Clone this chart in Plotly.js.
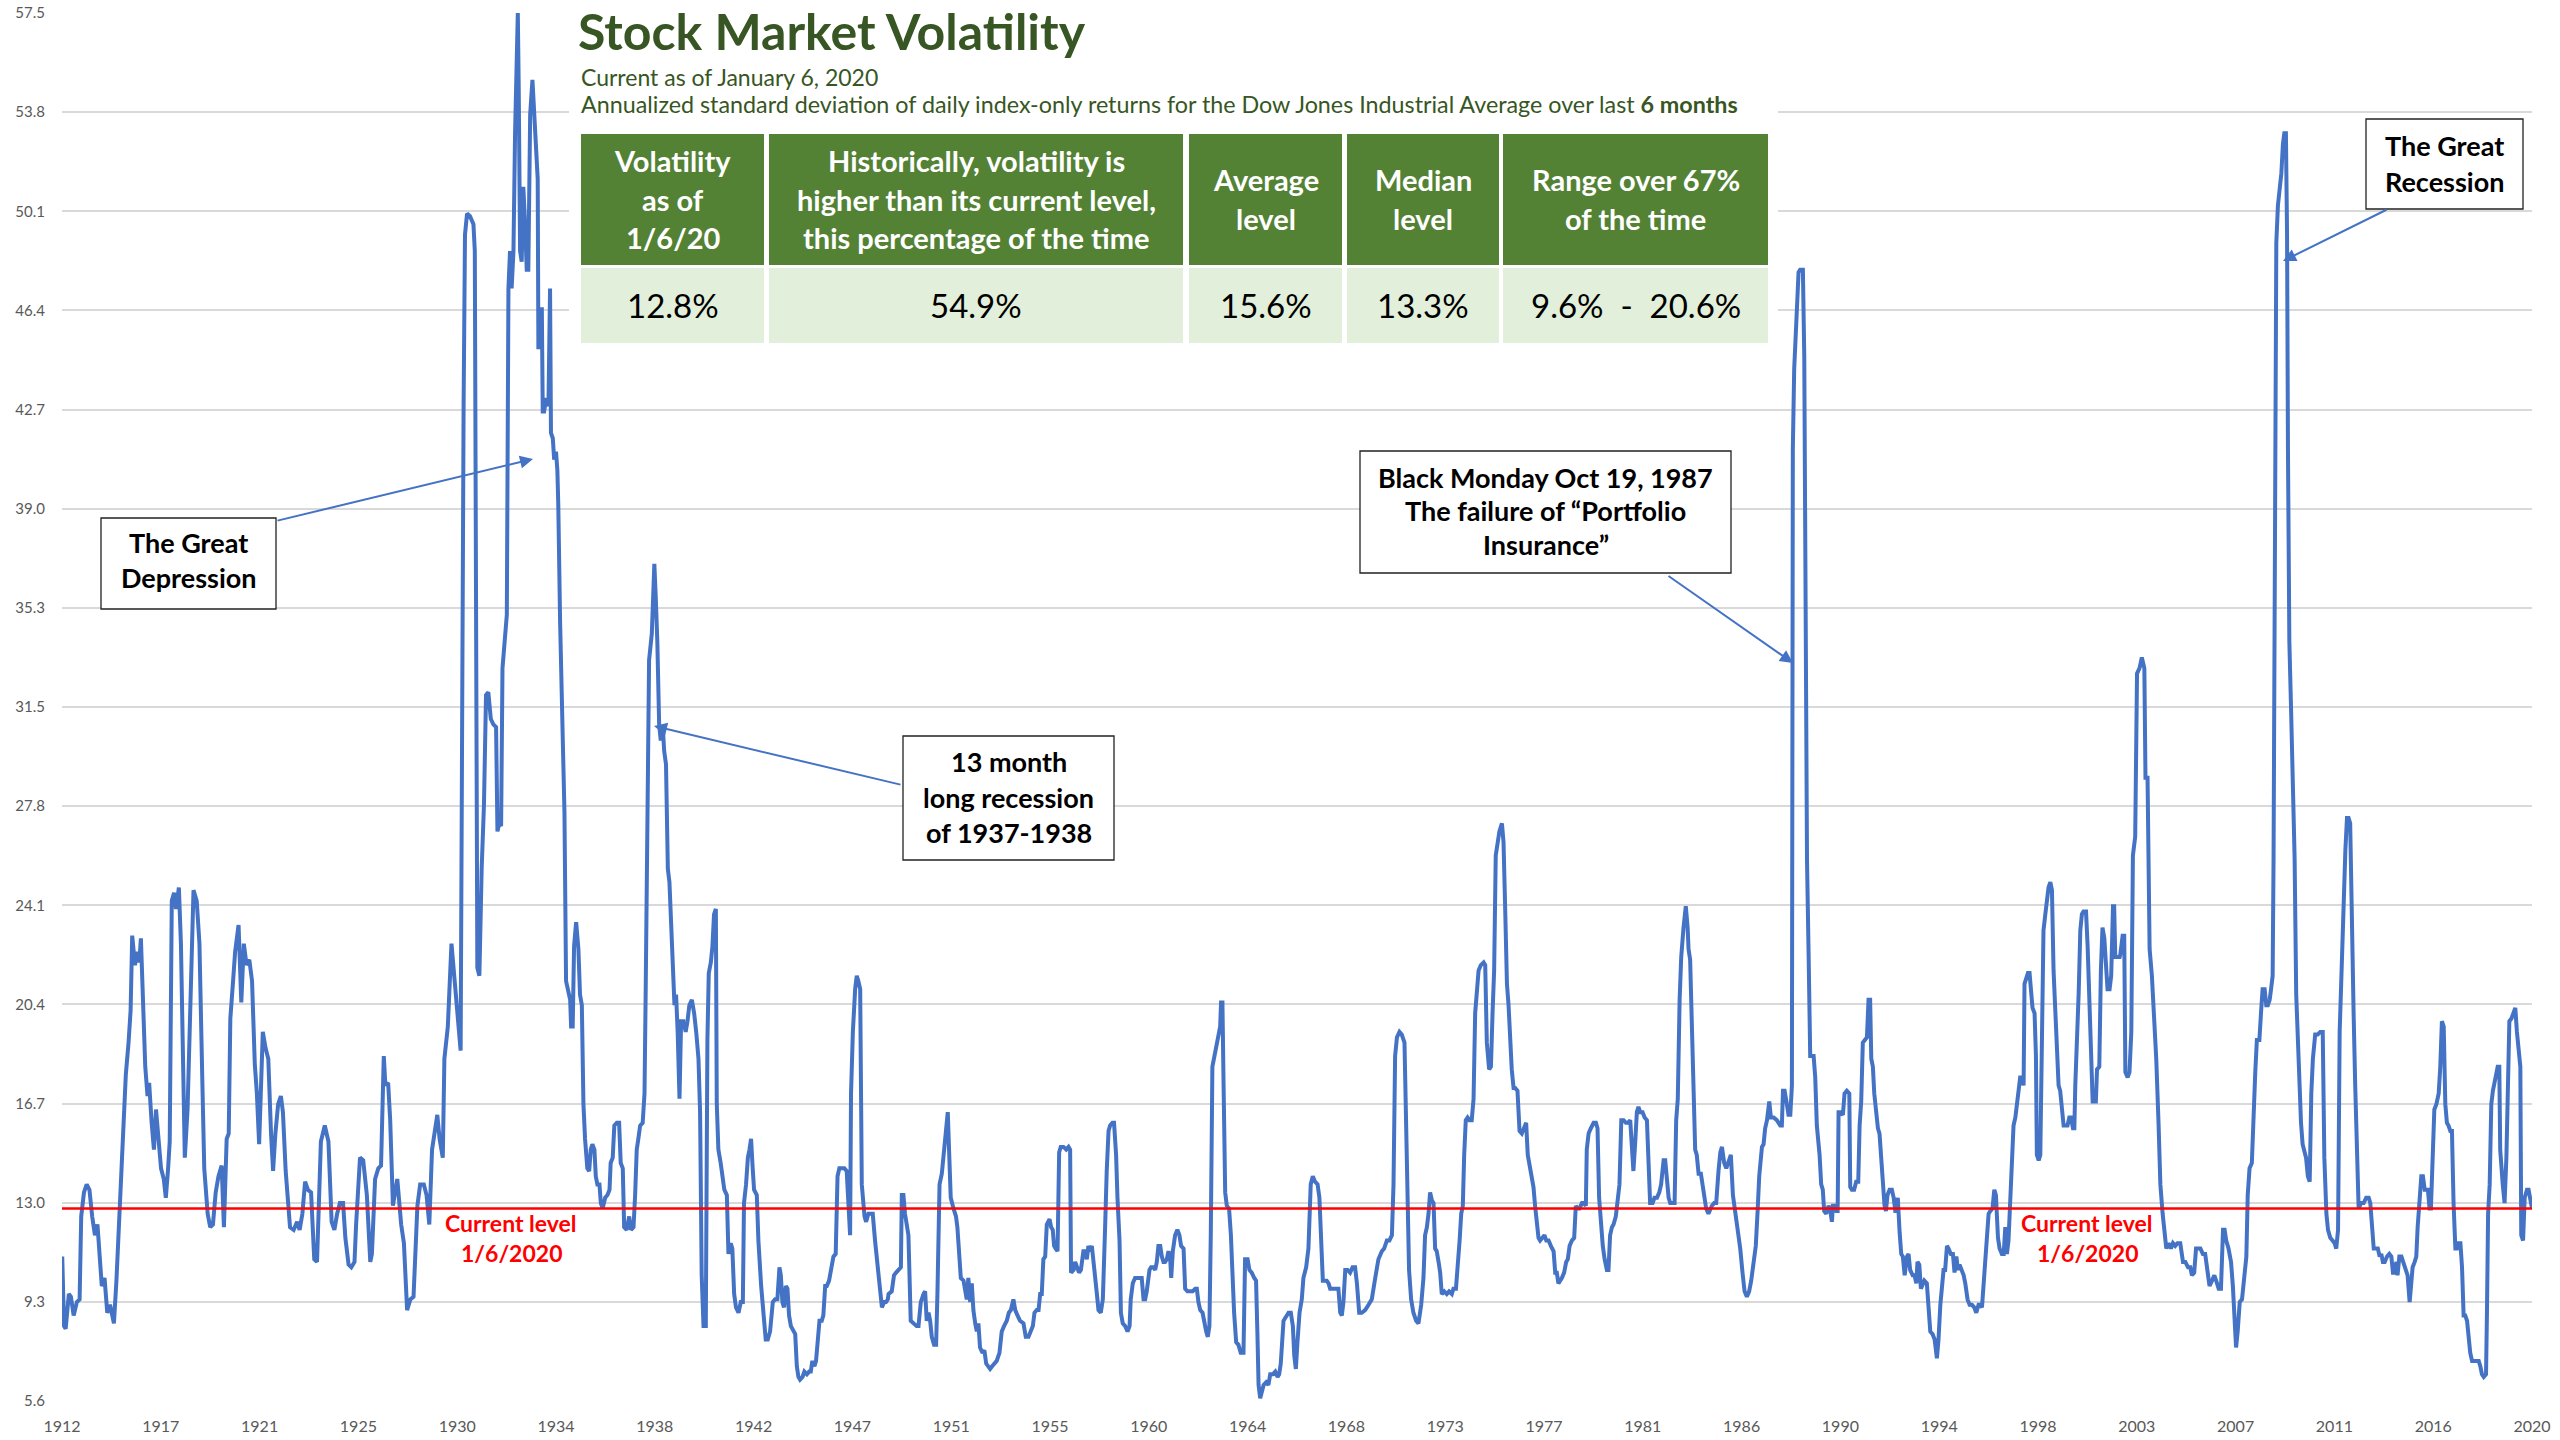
<!DOCTYPE html>
<html>
<head>
<meta charset="utf-8">
<script src="https://cdn.plot.ly/plotly-3.0.1.min.js"></script>
<style>
html,body{margin:0;padding:0;background:#ffffff;}
#chart{width:2560px;height:1440px;}
</style>
</head>
<body>
<div id="chart"></div>
<script>
// ---------------- DATA ----------------
// Annualized 6-month volatility of the DJIA, by date (decimal year)
const yearsA = [
1912.01,1912.09,1912.16,1912.30,1912.39,1912.51,1912.65,1912.77,1912.84,1912.96,
1913.08,1913.20,1913.32,1913.44,1913.55,1913.74,1913.86,1913.98,1914.10,1914.27,
1914.38,1914.62,1914.79,1914.91,1915.00,1915.07,1915.19,1915.28,1915.38,1915.45,
1915.57,1915.64,1915.74,1915.81,1915.92,1916.02,1916.11,1916.21,1916.33,1916.45,
1916.54,1916.64,1916.71,1916.80,1916.90,1916.99,1917.11,1917.20,1917.30,1917.37,
1917.49,1917.58,1917.75,1917.89,1918.01,1918.13,1918.22,1918.37,1918.48,1918.60,
1918.72,1918.84,1918.98,1919.08,1919.20,1919.29,1919.36,1919.48,1919.57,1919.72,
1919.84,1919.95,1920.07,1920.19,1920.31,1920.43,1920.52,1920.62,1920.78,1920.90,
1921.02,1921.14,1921.23,1921.33,1921.45,1921.57,1921.66,1921.78,1921.90,1921.97,
1922.13,1922.28,1922.39,1922.51,1922.63,1922.75,1922.89,1923.03,1923.15,1923.32,
1923.49,1923.65,1923.79,1923.91,1924.03,1924.15,1924.29,1924.39,1924.53,1924.65,
1924.79,1924.86,1925.03,1925.17,1925.33,1925.48,1925.55,1925.69,1925.83,1925.95,
1926.07,1926.14,1926.26,1926.35,1926.47,1926.66,1926.83,1926.95,1927.09,1927.23,
1927.37,1927.54,1927.66,1927.82,1927.94,1928.06,1928.18,1928.30,1928.41,1928.51,
1928.65,1928.72,1928.87,1929.03,1929.15,1929.24,1929.32,1929.43];
const volA = [
11.0,8.4,8.3,9.6,9.5,8.8,9.3,9.4,12.5,13.4,
13.7,13.5,12.5,11.8,12.2,9.9,10.2,8.9,9.2,8.5,
10.1,14.3,17.8,19.0,20.2,23.0,21.9,22.4,22.0,22.9,
19.9,18.1,17.0,17.5,16.0,15.0,16.5,15.3,14.3,13.9,
13.2,14.3,15.3,24.3,24.6,24.0,24.8,22.7,16.4,14.7,
16.5,19.2,24.7,24.3,22.7,17.8,14.3,12.6,12.1,12.2,
13.4,14.0,14.4,12.1,15.4,15.6,19.9,21.3,22.4,23.4,
20.5,22.7,21.9,22.1,21.3,18.2,17.1,15.2,19.4,18.8,
18.4,15.6,14.2,15.6,16.7,17.0,16.4,14.2,13.0,12.1,
12.0,12.3,12.0,12.6,13.8,13.5,13.4,10.9,10.8,15.3,
15.9,15.3,12.3,12.0,12.6,13.0,13.0,11.7,10.7,10.6,
10.8,12.2,14.7,14.6,13.3,10.8,11.1,13.9,14.3,14.4,
18.5,17.4,17.5,16.1,12.9,13.9,12.2,11.5,9.0,9.4,
9.5,12.9,13.7,13.7,13.3,12.2,15.0,15.8,16.3,15.4,
14.7,18.4,19.6,22.7,21.5,21.0,20.1,18.7];

const yearsB = [
1929.56,1929.62,1929.71,1929.84,1929.99,1930.05,1930.16,1930.25,1930.35,1930.45,
1930.54,1930.64,1930.75,1930.86,1930.98,1931.04,1931.12,1931.20,1931.26,1931.34,
1931.45,1931.52,1931.59,1931.66,1931.74,1931.81,1931.88,1931.93,1931.97,1932.03,
1932.10,1932.17,1932.25,1932.32,1932.39,1932.47,1932.57,1932.68,1932.80,1932.83,
1932.90,1932.98,1933.02,1933.08,1933.17,1933.27,1933.34,1933.38,1933.46,1933.52,
1933.60,1933.66,1933.70,1933.78,1933.89,1933.97,1934.04,1934.14,1934.22,1934.26,
1934.33,1934.39,1934.48,1934.58,1934.65,1934.73,1934.80,1934.87,1934.97,1935.05,
1935.12,1935.19,1935.28,1935.34,1935.41,1935.50,1935.56,1935.64,1935.75,1935.85,
1935.94,1935.99,1936.08,1936.15,1936.26,1936.36,1936.43,1936.52,1936.58,1936.69,
1936.80,1936.88,1936.99];
const volB = [
42.8,49.2,50.0,49.9,49.6,48.6,21.8,21.5,25.5,27.9,
32.0,32.1,31.1,30.9,30.8,26.9,27.2,27.1,33.0,34.0,
35.0,47.2,48.6,47.2,48.6,53.0,56.0,57.5,54.7,48.6,
48.2,51.0,49.6,47.9,47.9,53.7,55.0,53.0,51.3,45.0,
45.0,46.5,42.6,42.6,43.1,42.8,47.2,41.8,41.6,40.8,
41.1,40.4,39.1,34.7,30.9,27.6,21.3,20.8,20.6,19.6,
19.6,22.6,23.5,22.5,20.8,20.4,16.7,15.4,14.3,14.2,
15.0,15.2,15.0,14.0,13.7,13.7,13.0,12.8,13.2,13.3,
13.5,14.5,14.7,15.9,16.0,16.0,14.5,14.3,12.1,12.0,
12.5,12.0,12.1];

const yearsC = [
1937.06,1937.13,1937.20,1937.28,1937.39,1937.47,1937.52,1937.60,1937.67,1937.79,
1937.83,1937.90,1937.96,1938.03,1938.11,1938.18,1938.27,1938.33,1938.41,1938.49,
1938.56,1938.63,1938.71,1938.78,1938.85,1938.92,1939.00,1939.07,1939.17,1939.27,
1939.35,1939.43,1939.54,1939.64,1939.73,1939.83,1939.90,1939.97,1940.05,1940.15,
1940.22,1940.28,1940.37,1940.44,1940.51,1940.59,1940.63,1940.70,1940.80,1940.89,
1940.96,1941.07,1941.14,1941.24,1941.31,1941.39,1941.47,1941.58,1941.68,1941.77,
1941.82,1941.91,1941.99,1942.06,1942.13,1942.20,1942.26,1942.38,1942.45,1942.57,
1942.67,1942.77,1942.86,1942.96,1943.08,1943.18,1943.28,1943.37,1943.43,1943.50,
1943.57,1943.65,1943.72,1943.79,1943.87,1943.98,1944.06,1944.13,1944.20,1944.27,
1944.38,1944.46,1944.57,1944.67,1944.74,1944.81,1944.90,1944.97,1945.05,1945.12,
1945.22,1945.29,1945.37,1945.44,1945.54,1945.63,1945.73,1945.83,1945.91,1945.99,
1946.10,1946.21,1946.31,1946.39,1946.46,1946.50,1946.58,1946.68,1946.75,1946.82,
1946.90,1946.97,1947.09,1947.16,1947.26,1947.33,1947.45,1947.55,1947.66,1947.74,
1947.85,1947.95,1948.03,1948.11];
const volC = [
13.3,15.0,15.4,15.9,16.0,17.1,20.8,27.6,33.3,34.3,
35.7,36.9,35.7,34.0,30.9,30.3,30.8,29.9,29.4,25.5,
25.0,23.2,21.1,20.4,20.8,19.4,16.9,19.8,19.8,19.4,
19.8,20.4,20.6,20.1,19.4,18.4,16.4,10.3,8.4,8.4,
19.1,21.6,22.0,22.6,23.8,24.0,16.7,15.0,14.5,14.0,
13.5,13.3,11.1,11.5,11.3,9.6,9.1,8.9,9.3,9.3,
13.0,13.7,14.7,15.0,15.4,14.3,13.5,13.3,11.6,9.9,
8.9,7.9,7.9,8.2,9.3,9.4,9.4,10.6,10.3,9.3,
9.1,9.9,9.8,8.8,8.4,8.2,8.1,6.9,6.5,6.4,
6.5,6.7,6.6,6.7,6.7,7.1,6.9,7.1,7.9,8.6,
8.6,8.8,9.9,9.9,10.1,10.6,11.0,11.1,14.0,14.3,
14.3,14.3,14.2,12.6,11.8,17.1,19.4,21.0,21.5,21.3,
21.0,13.7,12.5,12.3,12.6,12.6,12.6,11.6,10.6,9.9,
9.1,9.3,9.3,9.4];

const yearsD = [
1948.14,1948.28,1948.38,1948.47,1948.57,1948.68,1948.72,1948.79,1948.86,1948.94,
1949.01,1949.11,1949.23,1949.37,1949.45,1949.55,1949.67,1949.74,1949.81,1949.89,
1949.96,1950.03,1950.13,1950.22,1950.28,1950.37,1950.47,1950.57,1950.66,1950.73,
1950.79,1950.86,1950.98,1951.09,1951.15,1951.23,1951.30,1951.42,1951.49,1951.56,
1951.63,1951.71,1951.78,1951.85,1951.93,1952.00,1952.07,1952.14,1952.25,1952.33,
1952.41,1952.51,1952.58,1952.67,1952.76,1952.87,1952.99,1953.09,1953.19,1953.31,
1953.40,1953.49,1953.60,1953.68,1953.78,1953.89,1954.04,1954.14,1954.26,1954.36,
1954.45,1954.52,1954.62,1954.70,1954.77,1954.84,1954.91,1954.99,1955.06,1955.18,
1955.25,1955.32,1955.38,1955.45,1955.53,1955.60,1955.67,1955.79,1955.91,1956.01,
1956.08,1956.12,1956.23,1956.30,1956.37,1956.47,1956.55,1956.66,1956.74,1956.81,
1956.88,1956.96,1957.03,1957.10,1957.17,1957.25,1957.32,1957.42,1957.51,1957.57,
1957.61,1957.68,1957.76,1957.83,1957.93,1958.00,1958.09,1958.15,1958.24,1958.30,
1958.38,1958.49,1958.59,1958.68,1958.73,1958.82,1958.92,1959.02,1959.11,1959.21,
1959.29,1959.36,1959.43,1959.55,1959.62,1959.72,1959.80,1959.87,1959.94,1960.02,
1960.09,1960.16,1960.23,1960.31,1960.38,1960.45,1960.50,1960.57,1960.67,1960.77,
1960.86,1960.93,1961.04,1961.11,1961.21,1961.33,1961.44,1961.55,1961.62,1961.69,
1961.77,1961.87,1961.94,1962.03,1962.10,1962.17,1962.23,1962.30,1962.39,1962.47,
1962.57,1962.64,1962.68,1962.74,1962.79,1962.86,1962.93,1963.03,1963.11,1963.18,
1963.25,1963.34,1963.44,1963.54,1963.66,1963.73,1963.84,1963.92,1964.02,1964.13,
1964.21,1964.27,1964.32,1964.39,1964.46,1964.54,1964.65,1964.75,1964.83,1964.94,
1965.05,1965.15,1965.22,1965.29,1965.41,1965.53,1965.63,1965.73,1965.82,1965.88,
1965.95,1966.02,1966.11];
const volD = [
9.6,9.7,10.3,10.4,10.5,10.6,13.3,13.3,12.6,12.1,
11.8,8.6,8.5,8.4,8.4,9.3,9.6,9.7,8.6,8.9,
8.6,8.0,7.7,7.7,9.7,13.7,14.1,14.9,15.7,16.4,
14.9,13.2,12.8,12.5,12.1,10.8,10.2,10.1,9.8,9.4,
10.2,9.3,10.0,9.0,8.5,8.2,8.5,7.6,7.4,7.5,
7.0,6.9,6.8,6.9,7.0,7.1,7.4,8.2,8.4,8.6,
8.9,9.0,9.4,9.0,8.8,8.6,8.5,8.0,8.0,8.2,
8.4,8.9,9.0,9.0,9.6,9.6,10.9,11.0,12.2,12.4,
12.1,12.0,11.4,11.3,11.2,14.9,15.1,15.1,15.0,15.1,
15.0,10.4,10.5,10.8,10.6,10.4,10.5,11.2,11.2,10.9,
11.4,11.2,11.4,10.9,10.4,9.6,9.0,8.9,9.4,10.6,
12.1,14.2,15.7,15.9,16.0,16.0,14.8,13.2,11.6,8.9,
8.5,8.4,8.2,8.4,9.4,10.0,10.2,10.2,10.2,10.2,
9.4,9.4,9.7,10.5,10.6,10.6,10.5,10.8,11.4,11.4,
11.0,10.8,10.8,10.9,11.2,11.0,10.2,11.2,11.8,12.0,
11.8,11.4,11.3,9.8,9.7,9.7,9.7,9.8,9.8,9.3,
9.0,8.9,8.5,8.2,8.0,8.4,11.8,18.1,18.5,18.8,
19.2,19.6,20.5,20.5,17.4,13.4,12.9,12.8,11.8,10.2,
8.9,7.8,7.7,7.4,7.4,10.9,10.9,10.5,10.4,10.2,
10.1,8.1,6.2,5.7,5.9,6.2,6.3,6.2,6.6,6.6,
6.7,6.5,6.6,7.0,8.6,8.8,8.9,8.9,8.4,7.3,
6.8,7.8,8.9];

const yearsE = [
1966.21,1966.28,1966.40,1966.50,1966.60,1966.69,1966.79,1966.90,1966.98,1967.04,
1967.13,1967.19,1967.30,1967.38,1967.45,1967.60,1967.74,1967.81,1967.89,1967.96,
1968.03,1968.11,1968.21,1968.32,1968.43,1968.54,1968.62,1968.72,1968.83,1968.98,
1969.13,1969.27,1969.42,1969.56,1969.71,1969.81,1969.93,1970.04,1970.15,1970.22,
1970.29,1970.37,1970.48,1970.58,1970.70,1970.77,1970.83,1970.90,1970.99,1971.09,
1971.21,1971.31,1971.43,1971.53,1971.60,1971.68,1971.75,1971.82,1971.90,1971.97,
1972.04,1972.11,1972.19,1972.26,1972.33,1972.44,1972.55,1972.65,1972.77,1972.84,
1972.95,1973.02,1973.11,1973.18,1973.25,1973.31,1973.38,1973.46,1973.54,1973.64,
1973.72,1973.79,1973.86,1973.94,1974.04,1974.16,1974.23,1974.30,1974.40,1974.48,
1974.55,1974.62,1974.69,1974.77,1974.85,1974.96,1975.03,1975.10,1975.18,1975.25,
1975.32,1975.39,1975.47,1975.54,1975.64,1975.73,1975.83,1975.93,1976.02,1976.09,
1976.17,1976.27,1976.34,1976.41,1976.49,1976.56,1976.63,1976.74,1976.82,1976.90,
1977.00,1977.10,1977.22,1977.29,1977.36,1977.43,1977.51,1977.58,1977.68,1977.77,
1977.84,1977.92,1978.02,1978.12,1978.19,1978.27,1978.35,1978.46,1978.53,1978.63,
1978.67,1978.75,1978.85,1978.97,1979.07,1979.14,1979.21,1979.29,1979.37,1979.45,
1979.55,1979.62,1979.69,1979.77,1979.84,1979.94,1980.02,1980.10,1980.18,1980.28,
1980.38,1980.47,1980.57,1980.64,1980.71,1980.79,1980.86,1980.93,1981.01,1981.11,
1981.20,1981.30,1981.37,1981.44,1981.55,1981.63,1981.74,1981.84,1981.92,1982.03,
1982.10,1982.17,1982.25,1982.32,1982.42,1982.51,1982.58,1982.65,1982.73,1982.80,
1982.90,1983.00,1983.08,1983.12,1983.19,1983.27,1983.34,1983.41,1983.48,1983.56,
1983.66,1983.73,1983.81,1983.89,1983.99];
const volE = [
9.4,10.2,10.6,11.3,13.7,14.0,13.8,13.7,13.2,12.1,
10.1,10.1,10.1,10.0,9.8,9.8,9.8,9.8,8.9,8.8,
9.3,10.5,10.5,10.4,10.6,10.6,10.0,8.9,8.9,9.0,
9.2,9.4,10.2,10.9,11.2,11.3,11.6,11.6,11.8,13.7,
18.5,19.2,19.4,19.3,19.0,16.1,12.6,10.5,9.4,8.9,
8.6,8.5,9.2,10.2,11.8,12.1,12.6,13.4,13.1,13.0,
11.3,11.2,10.8,10.4,9.6,9.7,9.6,9.7,9.6,9.8,
9.8,10.5,11.6,12.6,12.9,14.8,16.1,16.2,16.1,16.1,
16.9,20.1,21.0,21.7,21.9,22.0,21.9,19.0,18.0,18.1,
20.1,21.7,26.0,26.5,26.9,27.2,26.5,24.1,21.2,20.4,
19.0,18.0,17.3,17.3,17.2,15.7,15.6,15.8,16.0,14.8,
14.4,14.0,13.6,12.9,12.1,11.7,11.6,11.7,11.8,11.6,
11.6,11.4,11.2,10.4,10.4,10.0,10.1,10.2,10.4,10.8,
10.9,11.4,11.6,11.7,12.9,12.8,12.8,13.0,13.0,12.9,
15.0,15.6,15.8,16.0,16.0,15.8,13.2,12.1,11.4,10.9,
10.5,10.5,11.8,12.1,12.2,12.5,13.2,13.7,16.1,16.1,
16.0,16.0,16.1,15.0,14.2,15.3,16.4,16.6,16.4,16.4,
16.2,16.1,14.0,13.0,13.0,13.2,13.2,13.4,13.7,14.6,
14.6,14.0,13.2,13.0,13.0,13.0,16.1,16.9,20.6,22.2,
23.3,24.1,23.3,22.5,22.1,19.6,16.9,15.0,14.8,14.1,
14.1,13.7,13.2,12.8,12.6];

const yearsF = [
1984.04,1984.14,1984.24,1984.33,1984.43,1984.51,1984.58,1984.68,1984.77,1984.87,
1984.97,1985.06,1985.16,1985.26,1985.38,1985.48,1985.57,1985.67,1985.77,1985.86,
1985.96,1986.06,1986.14,1986.21,1986.33,1986.40,1986.47,1986.55,1986.65,1986.72,
1986.84,1986.98,1987.13,1987.20,1987.25,1987.32,1987.42,1987.49,1987.57,1987.64,
1987.68,1987.74,1987.83,1987.93,1988.00,1988.12,1988.18,1988.24,1988.30,1988.37,
1988.44,1988.51,1988.59,1988.66,1988.73,1988.85,1988.92,1988.99,1989.05,1989.14,
1989.24,1989.32,1989.39,1989.43,1989.49,1989.58,1989.64,1989.68,1989.75,1989.87,
1989.94,1990.04,1990.15,1990.19,1990.26,1990.36,1990.45,1990.54,1990.60,1990.67,
1990.74,1990.83,1990.92,1990.99,1991.06,1991.11,1991.18,1991.24,1991.31,1991.40,
1991.47,1991.55,1991.62,1991.69,1991.75,1991.82,1991.91,1992.01,1992.09,1992.16,
1992.23,1992.27,1992.35,1992.42,1992.49,1992.57,1992.67,1992.74,1992.81,1992.92,
1993.00,1993.08,1993.13,1993.21,1993.28,1993.35,1993.43,1993.54,1993.62,1993.69,
1993.79,1993.88,1993.98,1994.05,1994.13,1994.20,1994.27,1994.34,1994.42,1994.49,
1994.59,1994.68,1994.75,1994.83,1994.90,1994.97,1995.07,1995.15,1995.22,1995.32,
1995.41,1995.51,1995.61,1995.70,1995.80,1995.88,1995.95,1996.02,1996.09,1996.17,
1996.24,1996.31,1996.41,1996.49,1996.56,1996.65,1996.72,1996.82,1996.90,1996.97,
1997.04,1997.11,1997.19,1997.26,1997.33,1997.41,1997.48,1997.55,1997.62,1997.70,
1997.77,1997.81,1997.89,1997.96,1998.03,1998.09,1998.16,1998.25,1998.31,1998.35,
1998.43,1998.50,1998.57,1998.64,1998.72,1998.79,1998.86,1998.94,1999.01,1999.08,
1999.16,1999.23,1999.30,1999.37,1999.45,1999.52,1999.59,1999.69,1999.77,1999.84,
1999.93,1999.99,2000.03,2000.10,2000.18,2000.25,2000.32,2000.39,2000.50,2000.57,
2000.64,2000.71,2000.79,2000.86,2000.93,2000.98,2001.08,2001.15,2001.22,2001.30,
2001.37,2001.44,2001.53,2001.60,2001.68,2001.73,2001.78,2001.85,2001.97];
const volF = [
12.7,12.9,13.0,13.0,14.2,14.9,15.1,14.5,14.3,14.6,
14.8,13.3,12.7,12.0,11.3,10.4,9.7,9.5,9.7,10.1,
10.8,11.4,12.7,14.0,15.1,15.2,15.8,16.1,16.8,16.2,
16.2,16.1,15.9,15.9,17.2,17.2,16.7,16.3,16.3,17.4,
41.2,44.2,45.9,47.8,47.9,47.9,44.7,36.0,25.8,22.3,
18.5,18.5,18.5,17.7,15.9,14.8,13.7,13.5,12.7,12.6,
12.9,12.7,12.3,12.9,12.9,12.7,12.7,16.4,16.4,16.3,
17.1,17.2,17.1,13.6,13.5,13.5,13.8,13.8,15.9,16.8,
19.0,19.1,19.2,20.6,20.6,18.4,18.1,17.1,16.4,15.8,
15.6,14.5,13.6,12.9,12.7,13.3,13.5,13.5,13.2,12.7,
12.7,13.2,11.9,11.1,11.0,10.3,11.0,11.1,10.5,10.3,
10.3,10.0,10.8,10.7,9.8,10.0,10.1,10.0,9.2,8.2,
8.1,7.9,7.2,7.9,9.2,10.1,10.5,10.5,11.4,11.3,
11.1,11.1,10.4,11.0,10.5,10.7,10.5,10.3,10.0,9.4,
9.2,9.2,9.1,8.9,9.2,9.2,9.1,10.0,11.0,12.1,
12.6,12.7,12.8,13.5,13.3,11.7,11.3,11.1,11.1,12.1,
11.1,11.6,13.0,14.5,15.9,16.2,16.7,17.4,17.7,17.7,
17.4,21.2,21.5,21.6,21.6,21.0,20.3,20.1,18.5,14.8,
14.6,14.8,18.5,23.2,23.8,24.4,24.8,25.0,24.7,21.7,
20.0,18.3,17.4,17.2,16.5,15.9,15.9,15.9,16.2,16.2,
15.8,15.8,17.4,18.8,20.9,23.2,23.8,23.9,23.9,22.6,
20.9,18.3,16.8,16.8,16.8,18.0,18.1,21.7,23.3,22.9,
21.7,21.0,21.0,21.5,24.1,24.1,22.2,22.2,22.2];

const yearsG = [
2002.00,2002.10,2002.17,2002.22,2002.32,2002.40,2002.48,2002.55,2002.65,2002.73,
2002.84,2002.94,2003.05,2003.10,2003.19,2003.28,2003.38,2003.48,2003.57,2003.67,
2003.75,2003.85,2003.92,2004.01,2004.11,2004.21,2004.30,2004.40,2004.50,2004.62,
2004.74,2004.84,2004.96,2005.06,2005.13,2005.23,2005.31,2005.39,2005.50,2005.61,
2005.71,2005.82,2005.90,2006.01,2006.11,2006.19,2006.30,2006.40,2006.49,2006.56,
2006.63,2006.73,2006.84,2006.92,2006.98,2007.06,2007.13,2007.22,2007.32,2007.42,
2007.51,2007.57,2007.65,2007.75,2007.83,2007.90,2007.97,2008.08,2008.15,2008.22,
2008.31,2008.38,2008.45,2008.53,2008.59,2008.66,2008.70,2008.75,2008.79,2008.82,
2008.89,2008.96,2009.04,2009.11,2009.17,2009.24,2009.29,2009.33,2009.39,2009.47,
2009.55,2009.62,2009.69,2009.75,2009.82,2009.90,2009.97,2010.04,2010.12,2010.20,
2010.28,2010.35,2010.42,2010.52,2010.63,2010.74,2010.85,2010.92,2011.01,2011.08,
2011.18,2011.28,2011.37,2011.44,2011.52,2011.59,2011.66,2011.76,2011.84,2011.91,
2011.98,2012.05,2012.13,2012.20,2012.27,2012.35,2012.42,2012.52,2012.64,2012.75,
2012.86,2012.93,2013.00,2013.08,2013.18,2013.26,2013.34,2013.41,2013.48,2013.56,
2013.66,2013.76,2013.85,2013.92,2013.99,2014.07,2014.12,2014.20,2014.29,2014.36,
2014.46,2014.56,2014.65,2014.71,2014.78,2014.87,2014.94,2015.00,2015.07,2015.16,
2015.23,2015.31,2015.45,2015.52,2015.58,2015.66,2015.73,2015.82,2015.92,2015.99,
2016.06,2016.14,2016.21,2016.28,2016.35,2016.43,2016.50,2016.57,2016.65,2016.72,
2016.79,2016.87,2016.94,2017.01,2017.08,2017.16,2017.23,2017.30,2017.38,2017.52,
2017.67,2017.74,2017.81,2017.89,2017.99,2018.03,2018.08,2018.15,2018.22,2018.29,
2018.40,2018.50,2018.57,2018.61,2018.72,2018.80,2018.88,2018.95,2019.01,2019.10,
2019.20,2019.27,2019.34,2019.42,2019.49,2019.53,2019.61,2019.68,2019.78,2019.85,
2019.93,2020.00];
const volG = [
22.3,23.0,23.0,17.9,17.7,17.9,19.4,26.0,26.7,32.8,
33.0,33.4,33.0,28.9,28.9,22.5,21.5,20.1,18.4,16.0,
13.7,12.6,12.0,11.3,11.5,11.3,11.5,11.4,11.5,11.5,
10.8,10.8,10.6,10.6,10.3,10.4,11.3,11.3,11.3,11.1,
11.1,10.4,9.9,10.1,10.3,10.1,9.8,9.8,12.0,12.0,
11.6,11.3,10.8,9.9,8.6,7.6,8.2,9.3,9.4,10.1,
11.0,13.3,14.3,14.5,16.7,17.9,19.1,19.1,20.1,21.0,
21.0,20.4,20.4,20.6,21.0,21.5,25.9,34.3,43.8,48.9,
50.3,50.8,51.5,52.6,53.0,53.0,49.2,41.1,34.0,31.3,
28.6,25.9,20.8,19.3,17.4,16.0,15.2,15.0,14.7,14.0,
13.8,17.1,18.4,19.3,19.3,19.4,19.4,14.7,12.6,12.0,
11.7,11.6,11.5,11.3,12.0,19.4,21.5,24.2,26.2,27.4,
27.4,27.2,22.1,20.1,17.4,14.3,12.8,13.0,13.0,13.2,
13.2,13.0,12.1,11.3,11.3,11.3,11.0,11.1,10.8,10.8,
11.0,11.1,11.0,10.4,10.4,10.8,10.3,11.0,11.0,10.8,
10.6,10.3,9.3,9.8,10.6,10.8,11.0,12.1,13.0,14.0,
14.0,13.5,13.5,12.8,12.8,15.4,16.5,16.7,17.1,18.1,
19.8,19.6,16.7,16.0,15.9,15.7,15.7,13.0,11.3,11.3,
11.5,11.5,10.6,8.8,8.8,8.6,7.9,7.4,7.1,7.1,
7.1,6.9,6.6,6.5,6.6,8.9,12.6,13.7,16.7,17.2,
17.7,18.1,18.1,15.0,13.7,13.0,14.7,17.7,19.8,19.9,
20.1,20.3,19.4,18.7,18.1,11.8,11.6,13.2,13.5,13.5,
13.2,12.8];

// Axis tick labels
const xTickLabels = ['1912','1917','1921','1925','1930','1934','1938','1942','1947','1951','1955','1960','1964',
                     '1968','1973','1977','1981','1986','1990','1994','1998','2003','2007','2011','2016','2020'];
const yTickLabels = ['5.6','9.3','13.0','16.7','20.4','24.1','27.8','31.5','35.3','39.0','42.7','46.4','50.1','53.8','57.5'];
const xStart = 1912, xEnd = 2020;
const yMin = 5.6, yMax = 57.5;

// Current level reference line
const currentLevel = 12.8;
const currentLabel = ['Current level', '1/6/2020'];

// Titles
const chartTitle = 'Stock Market Volatility';
const subtitle1 = 'Current as of January 6, 2020';
const subtitle2 = 'Annualized standard deviation of daily index-only returns for the Dow Jones Industrial Average over last <b>6 months</b>';

// Summary table
const headerLines = [
  ['Volatility', 'as of', '1/6/20'],
  ['Historically, volatility is', 'higher than its current level,', 'this percentage of the time'],
  ['Average', 'level'],
  ['Median', 'level'],
  ['Range over 67%', 'of the time']
];
const bodyValues = ['12.8%', '54.9%', '15.6%', '13.3%', '9.6%\u00a0\u00a0-\u00a0\u00a020.6%'];

// Callouts
const calloutTexts = [
  ['The Great', 'Depression'],
  ['13 month', 'long recession', 'of 1937-1938'],
  ['Black Monday Oct 19, 1987', 'The failure of \u201cPortfolio', 'Insurance\u201d'],
  ['The Great', 'Recession']
];

// ---------------- BUILD ----------------
const years = [].concat(yearsA, yearsB, yearsC, yearsD, yearsE, yearsF, yearsG);
const vol = [].concat(volA, volB, volC, volD, volE, volF, volG);

const FONT = "Lato, 'Open Sans', sans-serif";
const W = 2560, H = 1440;
const PL = 62, PR = 2532, PT = 13, PB = 1401;   // plot area in pixels
const X = px => (px - PL) / (PR - PL);
const Y = py => (PB - py) / (PB - PT);

const xTickVals = xTickLabels.map((_, i) => xStart + i * (xEnd - xStart) / (xTickLabels.length - 1));
const yTickVals = yTickLabels.map((_, i) => Math.round((yMin + i * (yMax - yMin) / (yTickLabels.length - 1)) * 1e6) / 1e6);

const shapes = [];
const annotations = [];

// white panel behind title + table (hides grid lines)
shapes.push({type:'rect', xref:'paper', yref:'paper', x0:X(569), x1:X(1778), y0:Y(348), y1:Y(0),
  fillcolor:'#ffffff', line:{width:0}, layer:'above'});

// red current-level line
shapes.push({type:'line', xref:'paper', yref:'y', x0:0, x1:1, y0:currentLevel, y1:currentLevel,
  line:{color:'#FF0000', width:2.5}, layer:'above'});

// table
const cols = [[581,764],[769,1183],[1189,1342],[1347,1499],[1503,1768]];
const hdrTop = 134, hdrBot = 265, bodyTop = 268, bodyBot = 343;
cols.forEach((c, i) => {
  shapes.push({type:'rect', xref:'paper', yref:'paper', x0:X(c[0]), x1:X(c[1]), y0:Y(hdrBot), y1:Y(hdrTop),
    fillcolor:'#548235', line:{width:0}, layer:'above'});
  shapes.push({type:'rect', xref:'paper', yref:'paper', x0:X(c[0]), x1:X(c[1]), y0:Y(bodyBot), y1:Y(bodyTop),
    fillcolor:'#E2EFDA', line:{width:0}, layer:'above'});
  const cx = (c[0] + c[1]) / 2;
  const lines = headerLines[i];
  const n = lines.length;
  const mid = 199;
  lines.forEach((t, k) => {
    annotations.push({xref:'paper', yref:'paper', x:X(cx), y:Y(mid + (k - (n - 1) / 2) * 38.5),
      xanchor:'center', yanchor:'middle', showarrow:false, text:'<b>' + t + '</b>',
      font:{family:FONT, size:29, color:'#ffffff'}});
  });
  annotations.push({xref:'paper', yref:'paper', x:X(cx), y:Y(305), xanchor:'center', yanchor:'middle',
    showarrow:false, text:bodyValues[i], font:{family:FONT, size:33, color:'#000000'}});
});

// subtitles
annotations.push({xref:'paper', yref:'paper', x:X(579), y:Y(77), xanchor:'left', yanchor:'middle', showarrow:false,
  text:subtitle1, font:{family:FONT, size:23, color:'#375623'}});
annotations.push({xref:'paper', yref:'paper', x:X(579), y:Y(104), xanchor:'left', yanchor:'middle', showarrow:false,
  text:subtitle2, font:{family:FONT, size:23.3, color:'#375623'}});

// callout boxes
const boxes = [
  {x0:101, x1:276, y0:518, y1:609, lines:calloutTexts[0], y:[542, 577]},
  {x0:903, x1:1114, y0:736, y1:860, lines:calloutTexts[1], y:[761, 797, 833]},
  {x0:1360, x1:1731, y0:451, y1:573, lines:calloutTexts[2], y:[477, 511, 545]},
  {x0:2366, x1:2523, y0:119, y1:209, lines:calloutTexts[3], y:[145, 181]}
];
boxes.forEach(b => {
  shapes.push({type:'rect', xref:'paper', yref:'paper', x0:X(b.x0), x1:X(b.x1), y0:Y(b.y1), y1:Y(b.y0),
    fillcolor:'#ffffff', line:{color:'#222222', width:1.3}, layer:'above'});
  const cx = (b.x0 + b.x1) / 2;
  b.lines.forEach((t, k) => {
    annotations.push({xref:'paper', yref:'paper', x:X(cx), y:Y(b.y[k]), xanchor:'center', yanchor:'middle',
      showarrow:false, text:'<b>' + t + '</b>', font:{family:FONT, size:27, color:'#000000'}});
  });
});

// arrows  (tip, tail in pixels)
const arrows = [
  {tip:[533, 459], tail:[276, 521]},
  {tip:[654, 726], tail:[902, 785]},
  {tip:[1793, 663], tail:[1667, 575]},
  {tip:[2283, 261], tail:[2388, 209]}
];
arrows.forEach(a => {
  annotations.push({xref:'paper', yref:'paper', x:X(a.tip[0]), y:Y(a.tip[1]), text:'', showarrow:true,
    ax:a.tail[0] - a.tip[0], ay:a.tail[1] - a.tip[1], arrowhead:2, arrowsize:1.3, arrowwidth:2,
    arrowcolor:'#4472C4', standoff:0, startstandoff:0});
});

// red current-level labels
[511, 2087].forEach(cx => {
  currentLabel.forEach((t, k) => {
    annotations.push({xref:'paper', yref:'paper', x:X(cx), y:Y(1223 + k * 29.5), xanchor:'center', yanchor:'middle',
      showarrow:false, text:'<b>' + t + '</b>', font:{family:FONT, size:23, color:'#FF0000'}});
  });
});

const trace = {
  type:'scatter', mode:'lines', x:years, y:vol, name:'Volatility',
  line:{color:'#4472C4', width:4}, hoverinfo:'x+y', showlegend:false
};

const layout = {
  width:W, height:H,
  margin:{l:PL, r:W - PR, t:PT, b:H - PB, pad:0},
  paper_bgcolor:'#ffffff', plot_bgcolor:'#ffffff',
  title:{text:'<b>' + chartTitle + '</b>', font:{family:FONT, size:50, color:'#375623'},
    xref:'container', yref:'container', x:578 / W, xanchor:'left', y:1 - 32.5 / H, yanchor:'middle'},
  showlegend:false,
  xaxis:{range:[xStart, xEnd], tickmode:'array', tickvals:xTickVals, ticktext:xTickLabels,
    showgrid:false, zeroline:false, showline:false, ticks:'', ticklabelstandoff:14,
    tickfont:{family:FONT, size:16, color:'#595959'}, fixedrange:true},
  yaxis:{range:[yMin, yMax], tickmode:'array', tickvals:yTickVals, ticktext:yTickLabels,
    showgrid:true, gridcolor:'#D9D9D9', gridwidth:2, zeroline:false, showline:false, ticks:'',
    ticklabelstandoff:16, tickfont:{family:FONT, size:15, color:'#595959'}, fixedrange:true},
  shapes:shapes,
  annotations:annotations,
  hovermode:false
};

Plotly.newPlot('chart', [trace], layout, {displayModeBar:false, responsive:false});
</script>
</body>
</html>
